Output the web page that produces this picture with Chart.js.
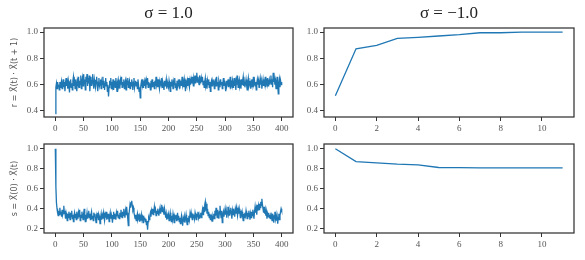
<!DOCTYPE html>
<html>
<head>
<meta charset="utf-8">
<script src="https://cdn.jsdelivr.net/npm/chart.js@4.4.1/dist/chart.umd.min.js"></script>
<style>
  html, body { margin: 0; padding: 0; background: #fff; }
  #wrap { position: relative; width: 585px; height: 260px; }
  canvas { position: absolute; left: 0; top: 0; }
</style>
</head>
<body>
<div id="wrap">
  <canvas id="c0" width="585" height="260"></canvas>
  <canvas id="c1" width="585" height="260"></canvas>
  <canvas id="c2" width="585" height="260"></canvas>
  <canvas id="c3" width="585" height="260"></canvas>
</div>
<script>
// r = X(t) . X(t+1), sigma = 1.0, t = 0..400
const rPositive = [
  0.38, 0.58, 0.61, 0.57, 0.62, 0.59, 0.60, 0.56, 0.62, 0.58, 0.61, 0.63, 0.57, 0.60, 0.64, 0.58, 0.62, 0.55, 0.61, 0.65,
  0.59, 0.62, 0.57, 0.63, 0.60, 0.54, 0.62, 0.64, 0.58, 0.61, 0.56, 0.63, 0.66, 0.59, 0.62, 0.57, 0.64, 0.60, 0.55, 0.63,
  0.61, 0.66, 0.58, 0.63, 0.60, 0.67, 0.57, 0.62, 0.65, 0.59, 0.68, 0.61, 0.64, 0.56, 0.66, 0.62, 0.68, 0.59, 0.65, 0.61,
  0.67, 0.55, 0.62, 0.66, 0.59, 0.63, 0.68, 0.60, 0.57, 0.64, 0.61, 0.58, 0.63, 0.66, 0.60, 0.55, 0.62, 0.65, 0.59, 0.61,
  0.64, 0.57, 0.62, 0.60, 0.66, 0.58, 0.63, 0.56, 0.61, 0.65, 0.59, 0.62, 0.55, 0.60, 0.51, 0.58, 0.63, 0.60, 0.65, 0.57,
  0.62, 0.59, 0.64, 0.56, 0.61, 0.63, 0.58, 0.65, 0.60, 0.55, 0.62, 0.64, 0.59, 0.61, 0.57, 0.63, 0.60, 0.66, 0.58, 0.62,
  0.59, 0.64, 0.57, 0.61, 0.63, 0.56, 0.62, 0.60, 0.65, 0.58, 0.61, 0.63, 0.57, 0.62, 0.59, 0.64, 0.60, 0.56, 0.62, 0.65,
  0.58, 0.61, 0.63, 0.59, 0.62, 0.57, 0.64, 0.60, 0.55, 0.58, 0.50, 0.59, 0.62, 0.60, 0.64, 0.58, 0.61, 0.63, 0.59, 0.62,
  0.57, 0.63, 0.60, 0.65, 0.58, 0.62, 0.59, 0.61, 0.56, 0.63, 0.60, 0.64, 0.58, 0.61, 0.62, 0.57, 0.63, 0.59, 0.66, 0.60,
  0.62, 0.58, 0.64, 0.60, 0.57, 0.63, 0.61, 0.59, 0.65, 0.58, 0.62, 0.60, 0.56, 0.63, 0.59, 0.61, 0.64, 0.57, 0.62, 0.60,
  0.58, 0.63, 0.60, 0.55, 0.62, 0.59, 0.64, 0.61, 0.57, 0.62, 0.60, 0.65, 0.58, 0.61, 0.56, 0.63, 0.59, 0.62, 0.60, 0.64,
  0.57, 0.61, 0.63, 0.59, 0.66, 0.60, 0.62, 0.58, 0.64, 0.61, 0.55, 0.62, 0.60, 0.63, 0.59, 0.65, 0.61, 0.58, 0.63, 0.60,
  0.64, 0.61, 0.66, 0.62, 0.59, 0.65, 0.63, 0.67, 0.61, 0.64, 0.69, 0.62, 0.66, 0.63, 0.60, 0.67, 0.64, 0.61, 0.65, 0.62,
  0.66, 0.60, 0.63, 0.58, 0.62, 0.65, 0.59, 0.61, 0.57, 0.63, 0.60, 0.64, 0.58, 0.62, 0.55, 0.61, 0.63, 0.59, 0.62, 0.60,
  0.64, 0.57, 0.61, 0.63, 0.59, 0.66, 0.60, 0.62, 0.56, 0.63, 0.61, 0.58, 0.64, 0.60, 0.62, 0.57, 0.61, 0.65, 0.59, 0.62,
  0.60, 0.55, 0.63, 0.59, 0.61, 0.64, 0.58, 0.62, 0.60, 0.66, 0.57, 0.62, 0.60, 0.63, 0.58, 0.61, 0.65, 0.59, 0.62, 0.56,
  0.63, 0.60, 0.67, 0.58, 0.62, 0.64, 0.59, 0.61, 0.57, 0.64, 0.60, 0.63, 0.66, 0.59, 0.62, 0.58, 0.61, 0.64, 0.60, 0.56,
  0.62, 0.65, 0.59, 0.61, 0.63, 0.57, 0.62, 0.60, 0.64, 0.58, 0.66, 0.61, 0.63, 0.59, 0.62, 0.56, 0.61, 0.64, 0.60, 0.63,
  0.58, 0.62, 0.65, 0.60, 0.63, 0.57, 0.61, 0.64, 0.59, 0.62, 0.60, 0.66, 0.58, 0.63, 0.61, 0.65, 0.59, 0.62, 0.64, 0.60,
  0.63, 0.67, 0.60, 0.64, 0.58, 0.69, 0.62, 0.65, 0.60, 0.63, 0.57, 0.62, 0.66, 0.59, 0.53, 0.61, 0.64, 0.58, 0.63, 0.60,
  0.62
];

// s = X(0) . X(t), sigma = 1.0, t = 0..400
const sPositive = [
  1.00, 0.62, 0.46, 0.40, 0.36, 0.33, 0.38, 0.34, 0.41, 0.35, 0.37, 0.32, 0.39, 0.34, 0.36, 0.43, 0.35, 0.38, 0.30, 0.36,
  0.33, 0.28, 0.35, 0.31, 0.37, 0.33, 0.29, 0.36, 0.32, 0.38, 0.30, 0.34, 0.27, 0.33, 0.36, 0.31, 0.35, 0.29, 0.37, 0.33,
  0.30, 0.36, 0.32, 0.39, 0.28, 0.34, 0.31, 0.37, 0.33, 0.29, 0.35, 0.40, 0.32, 0.27, 0.34, 0.31, 0.36, 0.30, 0.33, 0.38,
  0.31, 0.35, 0.29, 0.34, 0.37, 0.30, 0.33, 0.28, 0.36, 0.32, 0.35, 0.30, 0.26, 0.33, 0.31, 0.36, 0.29, 0.34, 0.32, 0.25,
  0.31, 0.35, 0.29, 0.33, 0.30, 0.36, 0.32, 0.28, 0.34, 0.31, 0.37, 0.29, 0.33, 0.30, 0.35, 0.27, 0.32, 0.36, 0.30, 0.34,
  0.31, 0.26, 0.33, 0.37, 0.30, 0.35, 0.32, 0.29, 0.36, 0.33, 0.38, 0.31, 0.34, 0.30, 0.36, 0.32, 0.39, 0.34, 0.31, 0.37,
  0.33, 0.40, 0.35, 0.31, 0.38, 0.34, 0.42, 0.36, 0.30, 0.23, 0.33, 0.39, 0.44, 0.41, 0.46, 0.48, 0.43, 0.39, 0.41, 0.36,
  0.33, 0.30, 0.34, 0.28, 0.32, 0.35, 0.29, 0.31, 0.33, 0.27, 0.32, 0.30, 0.34, 0.28, 0.31, 0.26, 0.33, 0.29, 0.31, 0.27,
  0.30, 0.24, 0.28, 0.19, 0.27, 0.31, 0.29, 0.33, 0.36, 0.32, 0.38, 0.35, 0.40, 0.34, 0.37, 0.42, 0.36, 0.39, 0.33, 0.38,
  0.35, 0.40, 0.36, 0.33, 0.38, 0.41, 0.35, 0.39, 0.44, 0.37, 0.42, 0.38, 0.34, 0.40, 0.36, 0.31, 0.35, 0.29, 0.33, 0.30,
  0.34, 0.28, 0.32, 0.36, 0.30, 0.27, 0.33, 0.29, 0.35, 0.31, 0.26, 0.32, 0.30, 0.34, 0.28, 0.31, 0.36, 0.29, 0.33, 0.27,
  0.31, 0.25, 0.29, 0.33, 0.28, 0.23, 0.30, 0.27, 0.32, 0.26, 0.30, 0.34, 0.28, 0.24, 0.31, 0.27, 0.33, 0.29, 0.35, 0.31,
  0.36, 0.32, 0.29, 0.35, 0.31, 0.34, 0.30, 0.36, 0.33, 0.29, 0.35, 0.32, 0.37, 0.31, 0.34, 0.30, 0.33, 0.36, 0.31, 0.35,
  0.39, 0.34, 0.42, 0.37, 0.44, 0.47, 0.38, 0.45, 0.35, 0.40, 0.33, 0.37, 0.31, 0.35, 0.29, 0.34, 0.30, 0.33, 0.27, 0.32,
  0.35, 0.30, 0.38, 0.33, 0.41, 0.36, 0.31, 0.39, 0.34, 0.30, 0.37, 0.43, 0.35, 0.31, 0.38, 0.26, 0.34, 0.37, 0.32, 0.36,
  0.40, 0.34, 0.38, 0.31, 0.36, 0.42, 0.35, 0.39, 0.33, 0.37, 0.41, 0.35, 0.30, 0.38, 0.34, 0.40, 0.36, 0.32, 0.39, 0.35,
  0.41, 0.37, 0.33, 0.39, 0.35, 0.40, 0.36, 0.31, 0.38, 0.34, 0.37, 0.32, 0.28, 0.35, 0.31, 0.36, 0.33, 0.38, 0.34, 0.30,
  0.36, 0.32, 0.38, 0.34, 0.29, 0.35, 0.31, 0.37, 0.33, 0.39, 0.35, 0.30, 0.37, 0.42, 0.36, 0.40, 0.34, 0.44, 0.38, 0.43,
  0.39, 0.45, 0.41, 0.47, 0.43, 0.50, 0.44, 0.40, 0.36, 0.42, 0.35, 0.39, 0.33, 0.37, 0.30, 0.35, 0.32, 0.36, 0.31, 0.34,
  0.30, 0.36, 0.33, 0.28, 0.35, 0.31, 0.26, 0.33, 0.37, 0.30, 0.34, 0.28, 0.32, 0.25, 0.31, 0.35, 0.29, 0.33, 0.37, 0.40,
  0.38
];

// sigma = -1.0, t = 0..11
const rNegative = [0.516, 0.873, 0.899, 0.952, 0.960, 0.970, 0.980, 0.995, 0.995, 1.000, 0.999, 1.000];
const sNegative = [1.000, 0.871, 0.858, 0.845, 0.838, 0.812, 0.810, 0.808, 0.808, 0.808, 0.808, 0.808];

const longTicks = [0, 50, 100, 150, 200, 250, 300, 350, 400];
const shortTicks = [0, 2, 4, 6, 8, 10];
const rTicks = [0.4, 0.6, 0.8, 1.0];
const sTicks = [0.2, 0.4, 0.6, 0.8, 1.0];

const titles = ['\u03c3 = 1.0', '\u03c3 = \u22121.0'];
const yLabels = ['r = X\u20d7(t) \u00b7 X\u20d7(t + 1)', 's = X\u20d7(0) \u00b7 X\u20d7(t)'];

const lineColor = '#1f77b4';
const spineColor = '#333333';
const tickColor = '#555555';

Chart.defaults.font.family = "'Liberation Serif', 'DejaVu Serif', serif";
Chart.defaults.animation = false;

// draws the full frame around the axes
const frame = {
    id: 'frame',
    afterDraw(chart) {
        const a = chart.chartArea;
        const ctx = chart.ctx;
        ctx.save();
        ctx.strokeStyle = spineColor;
        ctx.lineWidth = 1.25;
        ctx.strokeRect(a.left, a.top, a.right - a.left, a.bottom - a.top);
        ctx.restore();
    }
};

function makePanel(id, values, xTicks, xMin, xMax, yTicks, yMin, yMax, box, title, yLabel) {
    const yWidth = 44;
    const xHeight = 18;
    const titleHeight = title ? 28 : 0;
    const points = values.map((v, i) => ({ x: i, y: v }));

    new Chart(document.getElementById(id), {
        type: 'line',
        data: {
            datasets: [{
                data: points,
                borderColor: lineColor,
                borderWidth: 1.3,
                pointRadius: 0,
                tension: 0,
                fill: false
            }]
        },
        options: {
            responsive: false,
            layout: {
                padding: {
                    left: box.left - yWidth,
                    right: 585 - box.right,
                    top: box.top - titleHeight,
                    bottom: 260 - box.bottom - xHeight
                }
            },
            plugins: {
                legend: { display: false },
                tooltip: { enabled: false },
                title: {
                    display: !!title,
                    text: title,
                    fullSize: false,
                    color: '#222',
                    font: { size: 17, weight: 'normal', lineHeight: 1.2 },
                    padding: { top: 3, bottom: 4.6 }
                }
            },
            scales: {
                x: {
                    type: 'linear',
                    min: xMin,
                    max: xMax,
                    afterBuildTicks: s => { s.ticks = xTicks.map(v => ({ value: v })); },
                    afterFit: s => { s.height = xHeight; },
                    border: { display: false },
                    grid: { drawOnChartArea: false, drawTicks: true, tickLength: 4, color: spineColor },
                    ticks: { color: tickColor, font: { size: 9 }, padding: 2, maxRotation: 0 }
                },
                y: {
                    type: 'linear',
                    min: yMin,
                    max: yMax,
                    afterBuildTicks: s => { s.ticks = yTicks.map(v => ({ value: v })); },
                    afterFit: s => { s.width = yWidth; },
                    border: { display: false },
                    grid: { drawOnChartArea: false, drawTicks: true, tickLength: 4, color: spineColor },
                    ticks: { color: tickColor, font: { size: 9 }, padding: 2, callback: v => v.toFixed(1) },
                    title: {
                        display: !!yLabel,
                        text: yLabel,
                        color: tickColor,
                        font: { family: "'DejaVu Sans', sans-serif", size: 8, lineHeight: 1.2 },
                        padding: { top: 10, bottom: 0 }
                    }
                }
            }
        },
        plugins: [frame]
    });
}

makePanel('c0', rPositive, longTicks, -20, 420, rTicks, 0.354, 1.031,
    { left: 44, right: 293, top: 28, bottom: 117 }, titles[0], yLabels[0]);
makePanel('c1', rNegative, shortTicks, -0.55, 11.55, rTicks, 0.354, 1.031,
    { left: 324, right: 574, top: 28, bottom: 117 }, titles[1], null);
makePanel('c2', sPositive, longTicks, -20, 420, sTicks, 0.157, 1.047,
    { left: 44, right: 293, top: 144, bottom: 233 }, null, yLabels[1]);
makePanel('c3', sNegative, shortTicks, -0.55, 11.55, sTicks, 0.157, 1.047,
    { left: 324, right: 574, top: 144, bottom: 233 }, null, null);
</script>
</body>
</html>
